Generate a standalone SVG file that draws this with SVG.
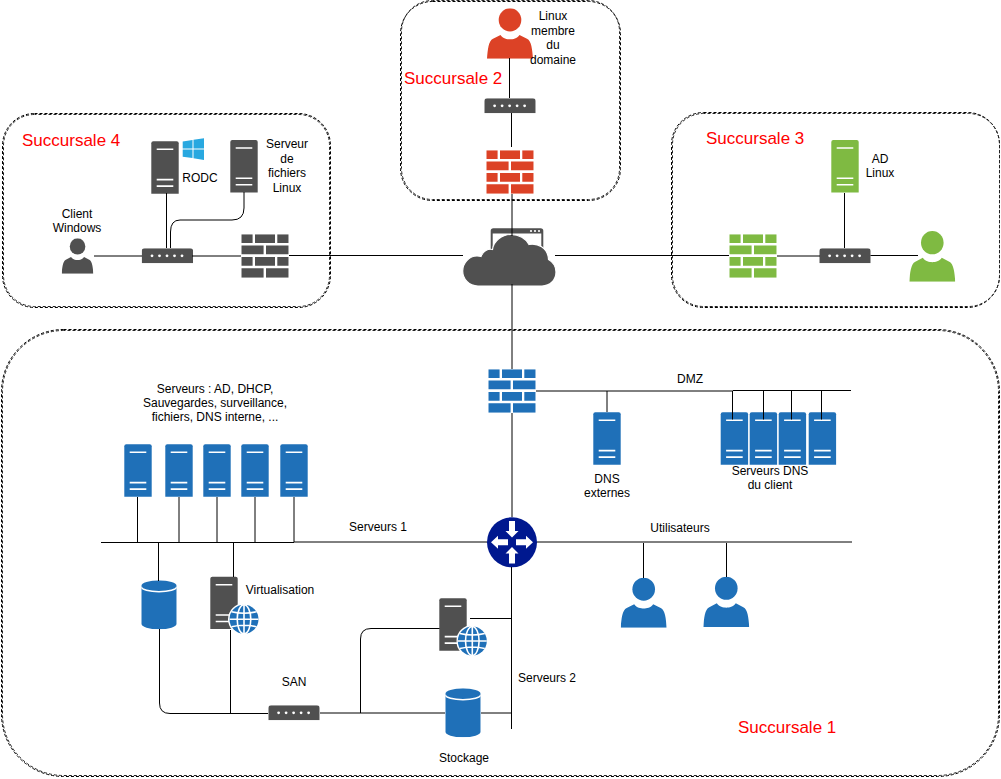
<svg xmlns="http://www.w3.org/2000/svg" width="1001" height="779" viewBox="0 0 1001 779">
<style>
text{font-family:"Liberation Sans",Arial,sans-serif;font-size:12px;fill:#000;text-anchor:middle}
.zone{font-size:17px;fill:#ff0000;text-anchor:start}
.box{fill:none;stroke:#000;stroke-width:1;stroke-dasharray:3 2}
.box2{fill:none;stroke:#222;stroke-width:1;stroke-dasharray:3 2;stroke-dashoffset:1}
.wire{fill:none;stroke:#000;stroke-width:1}
.blue{color:#1f70b8}.red{color:#dc4226}.green{color:#7fba42}.dark{color:#505050}
</style>
<defs>
<symbol id="server" viewBox="0 0 27.4 52.4" width="27.4" height="52.4" overflow="visible">
<path fill="currentColor" d="M0 2A2 2 0 0 1 2 0H25.4A2 2 0 0 1 27.4 2V52.4H0Z"/>
<path fill="none" stroke="#fff" stroke-width="1.6" d="M5.4 8H22M5.4 38.3H22M5.4 44.8H22"/>
</symbol>
<symbol id="firewall" viewBox="0 0 47.4 43.4" width="47.4" height="43.4">
<path fill="currentColor" d="M0 0h11.3v8.7H0zM13.7 0h20v8.7h-20zM36 0h11.4v8.7H36zM0 11.3h22.3v8.7H0zM24.7 11.3h22.7v8.7H24.7zM0 22.7h11.3v8.7H0zM13.7 22.7h20v8.7h-20zM36 22.7h11.4v8.7H36zM0 34h22.3v9.4H0zM24.7 34h22.7v9.4H24.700z"/>
</symbol>
<symbol id="switch" viewBox="0 0 51.4 15" width="51.4" height="15">
<path fill="#505050" d="M0 3A3 3 0 0 1 3 0H48.4A3 3 0 0 1 51.4 3V15H0Z"/>
<g fill="#fff"><circle cx="10.3" cy="7.5" r="1.4"/><circle cx="17.8" cy="7.5" r="1.4"/><circle cx="25.3" cy="7.5" r="1.4"/><circle cx="32.8" cy="7.5" r="1.4"/><circle cx="40.3" cy="7.5" r="1.4"/></g>
</symbol>
<symbol id="user" viewBox="0 0 46 50" preserveAspectRatio="none">
<ellipse fill="currentColor" cx="23" cy="11.5" rx="11.3" ry="11.5"/>
<path fill="currentColor" d="M0 50C.8 41 1.5 32.5 6 30.3L13.5 26.5C16 30 20 30.8 23 30.8S30 30 32.5 26.5L40 30.3C44.5 32.5 45.2 41 46 50Z"/>
</symbol>
<symbol id="db" viewBox="0 0 35.4 49" width="35.4" height="49">
<path fill="#1f70b8" d="M0 5.5A17.7 5.5 0 0 1 35.4 5.5V43.5A17.7 5.5 0 0 1 0 43.5Z"/>
<path fill="none" stroke="#fff" stroke-width="1.6" d="M0 6.5A17.7 5 0 0 0 35.4 6.5"/>
</symbol>
<symbol id="globe" viewBox="-16 -16 32 32" width="32" height="32">
<circle r="16" fill="#fff"/><circle r="14.5" fill="#1f70b8"/>
<g fill="none" stroke="#fff" stroke-width="1.6"><ellipse rx="6.8" ry="14.5"/><path d="M0-14.5V14.5M-14.5 0H14.5M-12.5-7.5Q0-4.5 12.5-7.5M-12.5 7.5Q0 4.5 12.5 7.5"/></g>
</symbol>
</defs>

<g id="zones">
<rect class="box" x="2.500" y="113.500" width="328" height="194" rx="32"/><rect class="box2" x="3.500" y="114.500" width="326" height="192" rx="31"/>
<rect class="box" x="400.500" y="1.500" width="220" height="199" rx="32"/><rect class="box2" x="401.500" y="0.500" width="218" height="199" rx="31"/>
<rect class="box" x="671.500" y="112.500" width="328" height="195" rx="32"/><rect class="box2" x="672.500" y="113.500" width="327" height="193" rx="31"/>
<rect class="box" x="1.500" y="329.500" width="998" height="447" rx="62"/><rect class="box2" x="2.500" y="330.500" width="996" height="445" rx="61"/>
</g>

<g id="succursale-4">
<text class="zone" x="22" y="146">Succursale 4</text>
<g id="rodc" class="dark"><use href="#server" x="151.300" y="141.300"/>
<path fill="#28a8e0" d="M182.700 141.500L192.500 140V148.500H182.700ZM193.500 139.800L204 138.300V148.500H193.500ZM182.700 149.500H192.500V158L182.700 156.800ZM193.500 149.500H204V160L193.500 158.300Z"/>
<text x="200" y="182">RODC</text></g>
<g id="serveur-fichiers" class="dark"><use href="#server" x="230.300" y="140"/>
<text x="287" y="148">Serveur</text><text x="287" y="163">de</text><text x="287" y="177">fichiers</text><text x="287" y="192">Linux</text></g>
<g id="client-windows" class="dark"><use href="#user" x="61.700" y="238.300" width="31.700" height="35.400"/>
<text x="77" y="218">Client</text><text x="77" y="232">Windows</text></g>
<g id="switch-4"><use href="#switch" x="141.700" y="248.300"/></g>
<g id="firewall-4" class="dark"><use href="#firewall" x="241.300" y="234.300"/></g>
</g>

<g id="succursale-2">
<text class="zone" x="404" y="84">Succursale 2</text>
<g id="linux-membre" class="red"><use href="#user" x="487" y="8.300" width="46" height="50.400"/>
<text x="553" y="20">Linux</text><text x="553" y="35">membre</text><text x="553" y="49">du</text><text x="553" y="64">domaine</text></g>
<g id="switch-2"><use href="#switch" x="484.300" y="98.300"/></g>
<g id="firewall-2" class="red"><use href="#firewall" x="486.300" y="150.300"/></g>
</g>

<g id="internet">
<path fill="#505050" d="M490.700 231A2.700 2.700 0 0 1 493.400 228.300H540.600A2.700 2.700 0 0 1 543.300 231V252H490.700Z"/>
<rect x="492.700" y="233.500" width="48.600" height="20" fill="#fff"/>
<g fill="#fff"><circle cx="531" cy="231" r="1.100"/><circle cx="535" cy="231" r="1.100"/><circle cx="539" cy="231" r="1.100"/></g>
<path fill="#505050" stroke="#fff" stroke-width="1.200" d="M478 286C469 286 462.700 279 462.700 271C462.700 263 469 256 477 256C479 256 480 256 481 256.500C483 251 488 248.500 492.500 249.500C493.500 241 502 234.500 511 234.500C519 234.500 526 238.500 529 244.500C537 243 548 247 548.500 259.500C553 262 556 266.500 556 272C556 280 550 286 542 286Z"/>
</g>

<g id="succursale-3">
<text class="zone" x="706" y="144">Succursale 3</text>
<g id="ad-linux" class="green"><use href="#server" x="831.300" y="140"/>
<text x="880" y="163">AD</text><text x="880" y="177">Linux</text></g>
<g id="firewall-3" class="green"><use href="#firewall" x="729.300" y="234.300"/></g>
<g id="switch-3"><use href="#switch" x="819.300" y="248.300"/></g>
<g id="user-3" class="green"><use href="#user" x="909.300" y="231" width="46" height="50.700"/></g>
</g>

<g id="succursale-1">
<text class="zone" x="738" y="733">Succursale 1</text>
<g id="firewall-1" class="blue"><use href="#firewall" x="488.300" y="369.300"/></g>
<g id="dns-externes" class="blue"><use href="#server" x="593.300" y="412.300"/>
<text x="607" y="483">DNS</text><text x="607" y="497">externes</text></g>
<g id="dns-client" class="blue"><use href="#server" x="720.700" y="412.300"/><use href="#server" x="749.700" y="412.300"/><use href="#server" x="778.700" y="412.300"/><use href="#server" x="808.700" y="412.300"/>
<text x="770" y="475">Serveurs DNS</text><text x="770" y="489">du client</text></g>
<text x="690" y="383">DMZ</text>
<g id="serveurs-internes" class="blue"><use href="#server" x="124.300" y="444.300"/><use href="#server" x="165.300" y="444.300"/><use href="#server" x="203.300" y="444.300"/><use href="#server" x="241.300" y="444.300"/><use href="#server" x="280.300" y="444.300"/>
<text x="215" y="393">Serveurs : AD, DHCP,</text><text x="215" y="407">Sauvegardes, surveillance,</text><text x="215" y="421">fichiers, DNS interne, ...</text></g>
<text x="378" y="531">Serveurs 1</text>
<text x="680" y="532">Utilisateurs</text>
<g id="routeur"><circle cx="512" cy="542.300" r="25" fill="#00188f"/>
<path fill="#fff" d="M509 521H515V531H518.500L512 537.500L505.500 531H509ZM509 563.500H515V553.500H518.500L512 547L505.500 553.500H509ZM508 539.300V545.300H498V548.800L491 542.300L498 535.800V539.300ZM516 539.300V545.300H526V548.800L533 542.300L526 535.800V539.300Z"/></g>
<g id="user-1a" class="blue"><use href="#user" x="620.700" y="577.700" width="46" height="50"/></g>
<g id="user-1b" class="blue"><use href="#user" x="703.300" y="576.700" width="46" height="50.300"/></g>
<g id="db-1"><use href="#db" x="141.300" y="580.300"/></g>
<g id="virtualisation" class="dark"><use href="#server" x="210.300" y="576.700"/><use href="#globe" x="228" y="603.300"/>
<text x="280" y="594">Virtualisation</text></g>
<g id="serveur-2" class="dark"><use href="#server" x="439.300" y="598.300"/><use href="#globe" x="456.300" y="625"/></g>
<g id="switch-san"><use href="#switch" x="268.300" y="705.300"/><text x="294" y="686">SAN</text></g>
<g id="stockage"><use href="#db" x="445.300" y="688.300"/><text x="464" y="762">Stockage</text></g>
<text x="547" y="682">Serveurs 2</text>
</g>

<g id="connectors">
<path class="wire" d="M94 256H142M192 256H241M289 255.500H463M166.500 193V248M244 192V208Q244 220 232 220H180Q170.500 220 170.500 232V248"/>
<path class="wire" d="M509.500 58V98M511.500 113V147M512 194V236M512 284V369"/>
<path class="wire" d="M555 255.500H729M777 256H820M870.500 255.500H918M844.500 193V248"/>
<path class="wire" d="M536 391H733M733 390.500H851M607 391V412M732.500 391V419.500M763.500 391V419.500M791.500 391V419.500M821.500 391V419.500"/>
<path class="wire" d="M512 413V517M511.500 567V729M101 542.500H294M294 542H487M537 542H852M643.500 543V578M726.500 543V577"/>
<path class="wire" d="M137.500 497V542M179 497V542M217 497V542M255 497V542M294 497V542M158.500 542V581M233.500 542V577"/>
<path class="wire" d="M159.500 629V703Q159.500 713.500 170 713.500H268M230.500 630V713.500M320 713H445M481 713H511.500M360.500 713V639Q360.500 628.500 371 628.500H439.500M470 618.500H511.500"/>
</g>
</svg>
